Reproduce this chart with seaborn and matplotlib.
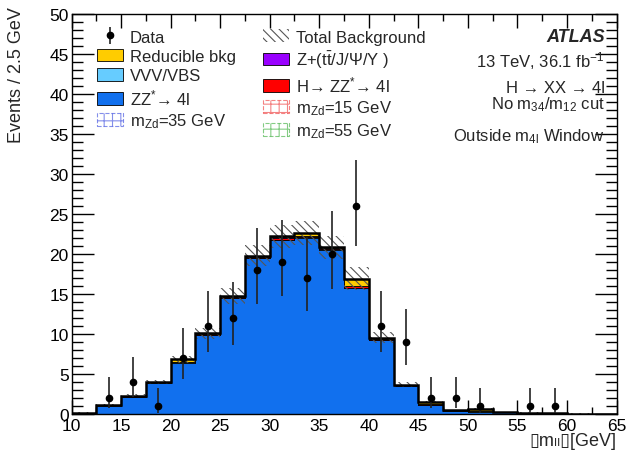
import numpy as np
import pandas as pd
import seaborn as sns
import matplotlib.pyplot as plt
from matplotlib.patches import Patch
from matplotlib.ticker import MultipleLocator

# bin edges of the m_ll histogram (2.5 GeV bins)
edges = np.arange(10, 65.01, 2.5)
centers = edges[:-1] + 1.25

# stacked background yields per bin
zz = [0.15, 1.05, 2.15, 3.85, 6.4, 9.85, 14.5, 19.5, 21.7, 22.05, 20.55,
      15.7, 9.25, 3.5, 1.15, 0.4, 0.3, 0.2, 0.12, 0.08, 0.05, 0.02]
vvv = [0.0, 0.01, 0.02, 0.03, 0.04, 0.05, 0.05, 0.06, 0.06, 0.06, 0.05,
       0.05, 0.04, 0.03, 0.02, 0.01, 0.01, 0.01, 0.0, 0.0, 0.0, 0.0]
higgs = [0.0, 0.05, 0.03, 0.05, 0.05, 0.05, 0.08, 0.1, 0.2, 0.12, 0.1,
         0.2, 0.12, 0.04, 0.03, 0.01, 0.01, 0.0, 0.0, 0.0, 0.0, 0.0]
zjets = [0.0, 0.0, 0.0, 0.0, 0.02, 0.02, 0.03, 0.03, 0.15, 0.05, 0.03,
         0.03, 0.02, 0.01, 0.0, 0.0, 0.0, 0.0, 0.0, 0.0, 0.0, 0.0]
reducible = [0.02, 0.05, 0.1, 0.07, 0.3, 0.1, 0.1, 0.1, 0.1, 0.35, 0.1,
             0.95, 0.1, 0.07, 0.3, 0.05, 0.3, 0.05, 0.05, 0.02, 0.0, 0.0]
# total background uncertainty per bin
bkg_unc = [0.02, 0.1, 0.2, 0.3, 0.45, 0.7, 1.0, 1.3, 1.4, 1.5, 1.4,
           1.4, 0.7, 0.3, 0.15, 0.05, 0.1, 0.03, 0.02, 0.01, 0.01, 0.0]

# data (bins with zero events are not drawn)
data_x = [13.75, 16.25, 18.75, 21.25, 23.75, 26.25, 28.75, 31.25, 33.75,
          36.25, 38.75, 41.25, 43.75, 46.25, 48.75, 51.25, 56.25, 58.75]
data_n = [2, 4, 1, 7, 11, 12, 18, 19, 17, 20, 26, 11, 9, 2, 2, 1, 1, 1]
data_lo = [0.71, 2.09, 0.17, 4.42, 7.73, 8.58, 13.8, 14.7, 12.9, 15.6, 21.0,
           7.73, 6.06, 0.71, 0.71, 0.17, 0.17, 0.17]
data_hi = [4.64, 7.16, 3.30, 10.77, 15.42, 16.56, 23.2, 24.3, 22.1, 25.4, 31.8,
           15.42, 13.11, 4.64, 4.64, 3.30, 3.30, 3.30]

processes = ['Reducible bkg', 'Z+(tt/J/Psi/Y)', 'H->ZZ*->4l', 'VVV/VBS', 'ZZ*->4l']
colors = ['#FFCC00', '#9900FF', '#FF0000', '#66CCFF', '#1170EE']
yields = [reducible, zjets, higgs, vvv, zz]

df = pd.concat([pd.DataFrame({'m': centers, 'w': y, 'process': p})
                for p, y in zip(processes, yields)], ignore_index=True)

sns.set_style('ticks')
plt.rcParams['font.family'] = ['Liberation Sans', 'DejaVu Sans']
plt.rcParams['mathtext.fontset'] = 'custom'
plt.rcParams['mathtext.rm'] = 'Liberation Sans'
plt.rcParams['mathtext.it'] = 'Liberation Sans:italic'
plt.rcParams['hatch.linewidth'] = 0.8

fig = plt.figure(figsize=(6.33, 4.6), dpi=100)
ax = fig.add_axes([0.113, 0.098, 0.861, 0.869])

# seaborn stacks the last hue level at the bottom
sns.histplot(data=df, x='m', weights='w', hue='process', hue_order=processes,
             palette=colors, bins=list(edges), multiple='stack', element='step',
             fill=True, alpha=1, edgecolor='black', linewidth=0.6,
             legend=False, ax=ax)

total = np.array(zz) + np.array(vvv) + np.array(higgs) + np.array(zjets) + np.array(reducible)
unc = np.array(bkg_unc)
ax.stairs(total + unc, edges, baseline=total - unc, fill=True, facecolor='none',
          edgecolor='#555555', linewidth=0, hatch='\\\\\\\\', zorder=3)
ax.stairs(total, edges, color='black', linewidth=1.8, zorder=4)

yerr = [np.array(data_n) - np.array(data_lo), np.array(data_hi) - np.array(data_n)]
data_art = ax.errorbar(data_x, data_n, yerr=yerr, fmt='o', color='black', ms=4.5,
                       ecolor='#222222', elinewidth=1.2, capsize=0, zorder=5)

ax.set_xlim(10, 65)
ax.set_ylim(0, 50)
ax.xaxis.set_major_locator(MultipleLocator(5))
ax.xaxis.set_minor_locator(MultipleLocator(2.5))
ax.yaxis.set_major_locator(MultipleLocator(5))
ax.yaxis.set_minor_locator(MultipleLocator(1))
ax.tick_params(which='both', direction='in', top=True, right=True, width=1.0,
               labelsize=12.5, colors='black')
ax.tick_params(axis='x', which='major', length=10, pad=3)
ax.tick_params(axis='x', which='minor', length=5)
ax.tick_params(axis='y', which='major', length=16, pad=2)
ax.tick_params(axis='y', which='minor', length=8)
for s in ax.spines.values():
    s.set_linewidth(1.0)
    s.set_color('black')

ax.set_ylabel('Events / 2.5 GeV', fontsize=13, loc='top')
ax.yaxis.set_label_coords(-0.086, 1.02)
# plain text (no mathtext) so the box glyphs fall back to DejaVu Sans
ax.set_xlabel('\u25afm\u2097\u2097\u25af[GeV]', fontsize=13, loc='right')
ax.xaxis.set_label_coords(1.0, -0.045)

handles = [
    data_art,
    Patch(facecolor='#FFCC00', edgecolor='black', lw=0.6),
    Patch(facecolor='#66CCFF', edgecolor='black', lw=0.6),
    Patch(facecolor='#1170EE', edgecolor='black', lw=0.6),
    Patch(facecolor='none', edgecolor='#3344DD', hatch='++', ls='--', lw=0.8, alpha=0.6),
    Patch(facecolor='white', edgecolor='#555555', hatch='\\\\\\\\', lw=0),
    Patch(facecolor='#9900FF', edgecolor='black', lw=0.6),
    Patch(facecolor='#FF0000', edgecolor='black', lw=0.6),
    Patch(facecolor='none', edgecolor='#EE3333', hatch='++', ls='--', lw=0.8, alpha=0.6),
    Patch(facecolor='none', edgecolor='#33AA33', hatch='++', ls='--', lw=0.8, alpha=0.6),
]
labels = ['Data', 'Reducible bkg', 'VVV/VBS', 'ZZ$^{*}$\u2192 4l',
          'm$_{\\mathrm{Zd}}$=35 GeV',
          'Total Background', 'Z+(t$\\bar{\\mathrm{t}}$/J/\u03a8/\u03a5 )',
          'H\u2192 ZZ$^{*}$\u2192 4l', 'm$_{\\mathrm{Zd}}$=15 GeV',
          'm$_{\\mathrm{Zd}}$=55 GeV']
ax.legend(handles, labels, ncol=2, loc='upper left', bbox_to_anchor=(0.046, 0.962),
          frameon=False, fontsize=12, handlelength=1.6, handleheight=0.8,
          labelspacing=0.25, columnspacing=1.6, handletextpad=0.4, borderpad=0,
          borderaxespad=0)

tx = 0.978
ax.text(tx, 0.945, 'ATLAS', transform=ax.transAxes, ha='right', va='center',
        fontsize=13, fontweight='bold', fontstyle='italic')
ax.text(tx, 0.885, '13 TeV, 36.1 fb$^{-1}$', transform=ax.transAxes, ha='right',
        va='center', fontsize=12)
ax.text(tx, 0.8175, 'H \u2192 XX \u2192 4l', transform=ax.transAxes, ha='right',
        va='center', fontsize=12)
ax.text(tx, 0.776, 'No m$_{34}$/m$_{12}$ cut', transform=ax.transAxes, ha='right',
        va='center', fontsize=12)
ax.text(tx, 0.695, 'Outside m$_{\\mathrm{4l}}$ Window', transform=ax.transAxes,
        ha='right', va='center', fontsize=12)

fig.savefig('out.png', dpi=100)
